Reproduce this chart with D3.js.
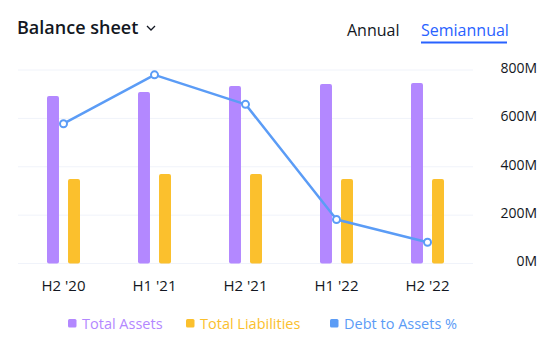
<!DOCTYPE html>
<html>
<head>
<meta charset="utf-8">
<script src="https://cdn.jsdelivr.net/npm/d3@7"></script>
<style>
  body { margin: 0; background: #fff; }
  text { font-family: "Open Sans", "Noto Sans", sans-serif; }
</style>
</head>
<body>
<div class="chartdiv"></div>
<script>
var periods = ["H2 '20", "H1 '21", "H2 '21", "H1 '22", "H2 '22"];
var totalAssets = [692, 709, 734, 742, 746];       // millions
var totalLiabilities = [349, 370, 370, 349, 349];  // millions
var debtToAssets = [28.9, 39.0, 32.9, 9.1, 4.4];   // percent
var yTicks = [0, 200, 400, 600, 800];

var seriesNames = ["Total Assets", "Total Liabilities", "Debt to Assets %"];
var colors = ["#b388ff", "#fbc02d", "#5b9cf6"];

var width = 553, height = 352;
var plot = {left: 18, right: 473, top: 70, bottom: 263.5};

var svg = d3.select(".chartdiv")
    .append("svg")
    .attr("width", width)
    .attr("height", height);

var x = d3.scaleBand().domain(periods).range([plot.left, plot.right]).padding(0);
var x1 = d3.scaleBand().domain(["assets", "liab"]).range([-16.5, 16.5]).paddingInner(0.43);
var y = d3.scaleLinear().domain([0, 800]).range([plot.bottom, plot.top]);
var y2 = d3.scaleLinear().domain([0, 40]).range([plot.bottom, plot.top]);

// header
svg.append("text")
    .attr("x", 17).attr("y", 34)
    .attr("font-size", 18).attr("font-weight", 600)
    .attr("fill", "#131722")
    .text("Balance sheet");

svg.append("path")
    .attr("d", "M147,26 L151,30 L155,26")
    .attr("fill", "none").attr("stroke", "#131722").attr("stroke-width", 1.3);

svg.append("text")
    .attr("x", 347).attr("y", 36)
    .attr("font-size", 16).attr("fill", "#131722")
    .text("Annual");

svg.append("text")
    .attr("x", 421).attr("y", 36)
    .attr("font-size", 16).attr("fill", "#2962ff")
    .text("Semiannual");

svg.append("rect")
    .attr("x", 421).attr("y", 41.5).attr("width", 86).attr("height", 2)
    .attr("fill", "#2962ff");

// grid
svg.append("g")
  .selectAll("line")
    .data(yTicks)
  .enter().append("line")
    .attr("x1", plot.left).attr("x2", plot.right)
    .attr("y1", function(d) { return y(d); })
    .attr("y2", function(d) { return y(d); })
    .attr("stroke", "#f0f3fa").attr("stroke-width", 1);

// y axis labels (right)
svg.append("g")
  .selectAll("text")
    .data(yTicks)
  .enter().append("text")
    .attr("x", 537)
    .attr("y", function(d) { return y(d) - 2; })
    .attr("dy", "0.35em")
    .attr("text-anchor", "end")
    .attr("font-size", 14)
    .attr("fill", "#131722")
    .text(function(d) { return d + "M"; });

// x axis labels
svg.append("g")
  .selectAll("text")
    .data(periods)
  .enter().append("text")
    .attr("x", function(d) { return x(d) + x.bandwidth() / 2; })
    .attr("y", 291)
    .attr("text-anchor", "middle")
    .attr("font-size", 15)
    .attr("fill", "#131722")
    .text(function(d) { return d; });

// bars
var groups = svg.append("g")
  .selectAll("g")
    .data(periods)
  .enter().append("g")
    .attr("transform", function(d) { return "translate(" + (x(d) + x.bandwidth() / 2) + ",0)"; });

groups.append("rect")
    .attr("x", x1("assets"))
    .attr("width", x1.bandwidth())
    .attr("y", function(d, i) { return y(totalAssets[i]); })
    .attr("height", function(d, i) { return y(0) - y(totalAssets[i]); })
    .attr("rx", 2)
    .attr("fill", colors[0]);

groups.append("rect")
    .attr("x", x1("liab"))
    .attr("width", x1.bandwidth())
    .attr("y", function(d, i) { return y(totalLiabilities[i]); })
    .attr("height", function(d, i) { return y(0) - y(totalLiabilities[i]); })
    .attr("rx", 2)
    .attr("fill", colors[1]);

// line
var line = d3.line()
    .x(function(d, i) { return x(periods[i]) + x.bandwidth() / 2; })
    .y(function(d) { return y2(d); });

svg.append("path")
    .datum(debtToAssets)
    .attr("d", line)
    .attr("fill", "none")
    .attr("stroke", colors[2])
    .attr("stroke-width", 2.5)
    .attr("stroke-linejoin", "round");

svg.append("g")
  .selectAll("circle")
    .data(debtToAssets)
  .enter().append("circle")
    .attr("cx", function(d, i) { return x(periods[i]) + x.bandwidth() / 2; })
    .attr("cy", function(d) { return y2(d); })
    .attr("r", 3.5)
    .attr("fill", "#fff")
    .attr("stroke", colors[2])
    .attr("stroke-width", 2);

// legend
var legendX = [68, 186, 330];
var legend = svg.append("g")
  .selectAll("g")
    .data(seriesNames)
  .enter().append("g")
    .attr("transform", function(d, i) { return "translate(" + legendX[i] + ",0)"; });

legend.append("rect")
    .attr("x", 0).attr("y", 319)
    .attr("width", 8.5).attr("height", 8.5)
    .attr("rx", 1.5)
    .attr("fill", function(d, i) { return colors[i]; });

legend.append("text")
    .attr("x", 14).attr("y", 328.5)
    .attr("font-size", 14.5)
    .attr("fill", function(d, i) { return colors[i]; })
    .text(function(d) { return d; });
</script>
</body>
</html>
